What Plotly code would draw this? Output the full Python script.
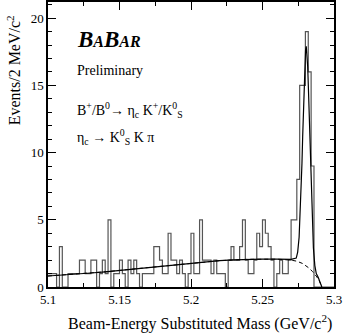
import numpy as np
import plotly.graph_objects as go

# events per 2 MeV/c^2 bin, 5.100 -> 5.300 GeV/c^2 (100 bins)
counts = [1, 1, 1, 0, 3, 0, 0, 1, 1, 1,
          1, 2, 2, 1, 1, 2, 2, 0, 1, 2,
          1, 5, 0, 1, 1, 2, 1, 0, 2, 1,
          2, 1, 0, 1, 1, 1, 1, 3, 3, 2,
          1, 1, 4, 2, 2, 1, 2, 1, 0, 1,
          4, 1, 1, 5, 2, 2, 2, 1, 2, 1,
          1, 1, 0, 2, 3, 2, 2, 3, 5, 2,
          1, 1, 2, 4, 3, 5, 4, 3, 2, 0,
          1, 2, 1, 1, 2, 5, 5, 8, 15, 15,
          19, 16, 9, 0, 0, 0, 0, 0, 0, 0]
bin_lo = 5.1
bin_hi = 5.3

# fit: ARGUS background + Gaussian signal (solid)
fit_mass = [5.100, 5.110, 5.120, 5.130, 5.140, 5.150, 5.160, 5.170, 5.180, 5.190,
            5.200, 5.210, 5.220, 5.230, 5.240, 5.250, 5.260, 5.265, 5.270, 5.2736,
            5.2746, 5.2756, 5.2766, 5.2771, 5.2776, 5.2781, 5.2786, 5.2791, 5.2796, 5.2801,
            5.2806, 5.2811, 5.2816, 5.2821, 5.2826, 5.2831, 5.2836, 5.2841, 5.2846, 5.2856,
            5.2866, 5.2876, 5.2890, 5.2905, 5.2915]
fit_total = [0.82, 0.88, 0.95, 1.04, 1.13, 1.23, 1.34, 1.45, 1.56, 1.68,
             1.78, 1.88, 1.96, 2.02, 2.06, 2.08, 2.07, 2.05, 2.05, 2.15,
             2.6, 3.7, 5.9, 7.4, 9.2, 11.2, 13.2, 15.1, 16.6, 17.6,
             17.9, 17.4, 16.4, 14.8, 12.9, 10.8, 8.75, 6.8, 5.2, 2.9,
             1.6, 1.0, 0.7, 0.3, 0.0]

# background only (dashed)
bkg_mass = [5.100, 5.120, 5.140, 5.160, 5.180, 5.200, 5.220, 5.240, 5.260, 5.270,
            5.274, 5.278, 5.282, 5.285, 5.288, 5.290, 5.2915]
bkg_val = [0.82, 0.95, 1.13, 1.34, 1.56, 1.78, 1.96, 2.06, 2.07, 2.0,
           1.92, 1.75, 1.45, 1.15, 0.75, 0.38, 0.0]

edges = np.linspace(bin_lo, bin_hi, len(counts) + 1)

fig = go.Figure()
fig.add_trace(go.Scatter(x=edges, y=counts + [counts[-1]], mode='lines',
                         line=dict(shape='hv', color='#555555', width=1.2),
                         hoverinfo='skip'))
fig.add_trace(go.Scatter(x=bkg_mass, y=bkg_val, mode='lines',
                         line=dict(color='black', width=1, dash='4px,3px')))
fig.add_trace(go.Scatter(x=fit_mass, y=fit_total, mode='lines',
                         line=dict(color='black', width=1.2)))

serif = 'Liberation Serif, Times New Roman, serif'
axis_common = dict(showgrid=False, zeroline=False, showline=True, linecolor='black',
                   linewidth=1.5, mirror='allticks', ticks='inside', tickcolor='black',
                   tickwidth=1, ticklen=8, automargin=False,
                   tickfont=dict(family=serif, size=13, color='black'))

fig.update_xaxes(range=[bin_lo, bin_hi], tickvals=[5.1, 5.15, 5.2, 5.25, 5.3],
                 ticktext=['5.1', '5.15', '5.2', '5.25', '5.3'],
                 minor=dict(dtick=0.025, ticks='inside', ticklen=4, tickcolor='black'),
                 **axis_common)
fig.update_yaxes(range=[0, 21.2], tickvals=[0, 5, 10, 15, 20],
                 minor=dict(dtick=1, ticks='inside', ticklen=4, tickcolor='black'),
                 **axis_common)

notes = [
    dict(x=0.094, y=0.867, size=23,
         text="<b><i>B<span style='font-size:16px'>A</span>B<span style='font-size:16px'>AR</span></i></b>"),
    dict(x=0.094, y=0.761, size=14, text='Preliminary'),
    dict(x=0.094, y=0.621, size=14,
         text='B<sup>+</sup>/B<sup>0</sup>\u2192 \u03b7<sub>c</sub> K<sup>+</sup>/K<sup>0</sup><sub>S</sub>'),
    dict(x=0.094, y=0.526, size=14,
         text='\u03b7<sub>c</sub> \u2192 K<sup>0</sup><sub>S</sub> K \u03c0'),
]
for n in notes:
    fig.add_annotation(xref='paper', yref='paper', xanchor='left', yanchor='middle',
                       showarrow=False, x=n['x'], y=n['y'], text=n['text'],
                       font=dict(family=serif, color='black', size=n['size']))

# axis titles placed as in the original (top / right aligned)
fig.add_annotation(xref='paper', yref='paper', x=-0.119, y=0.76, textangle=-90,
                   xanchor='center', yanchor='middle', showarrow=False,
                   text='Events/2 MeV/c<sup>2</sup>',
                   font=dict(family=serif, size=16, color='black'))
fig.add_annotation(xref='paper', yref='paper', x=1.0, y=-0.126,
                   xanchor='right', yanchor='middle', showarrow=False,
                   text='Beam-Energy Substituted Mass (GeV/c<sup>2</sup>)',
                   font=dict(family=serif, size=16, color='black'))

fig.update_layout(width=343, height=334, showlegend=False,
                  margin=dict(l=48, r=9, t=2, b=47, autoexpand=False),
                  paper_bgcolor='white', plot_bgcolor='white')

# page has a default 8px body margin; drop it so the figure fills the window
fig.write_html("out.html", config={'displayModeBar': False},
               post_script="document.body.style.margin='0';")
